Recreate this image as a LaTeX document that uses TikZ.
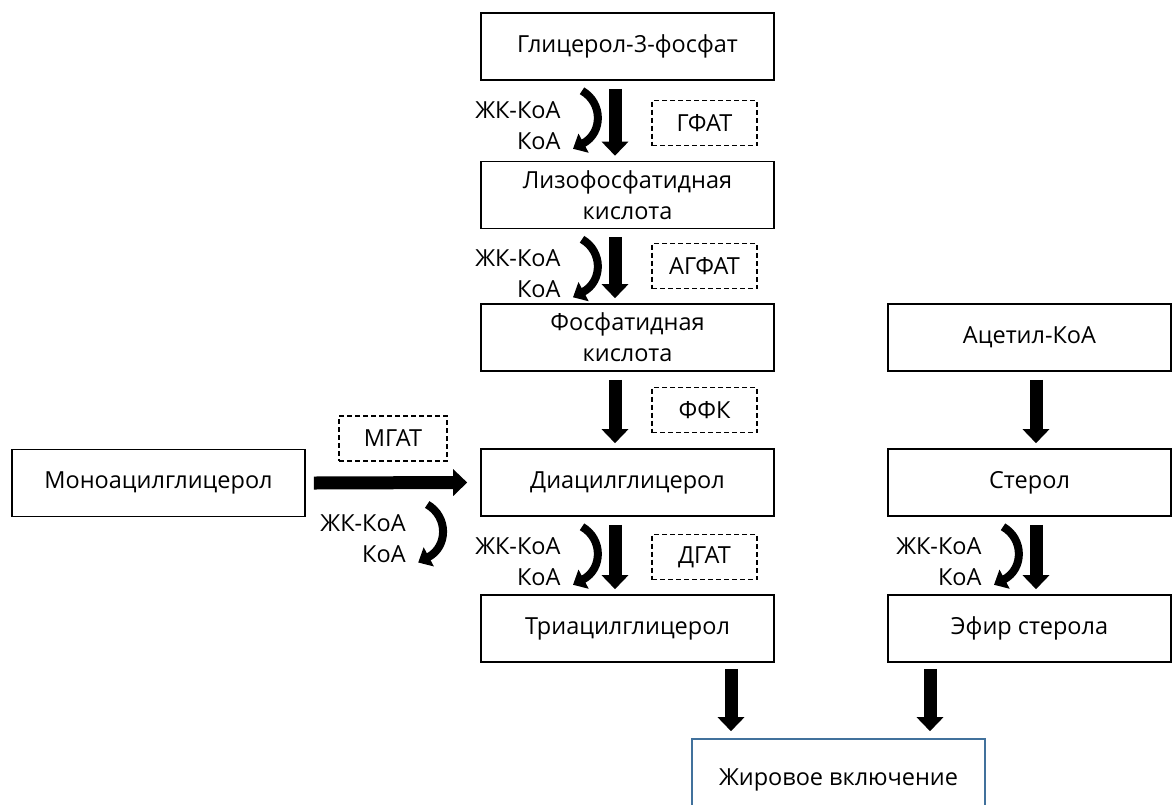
\documentclass[tikz,border=0pt]{standalone}
\usepackage{fontspec}
\setmainfont{Open Sans}
\usepackage{xcolor}
\usepackage{tikz}
\usetikzlibrary{arrows.meta}
\definecolor{lipidblue}{HTML}{41719C}

\begin{document}
\begin{tikzpicture}[x=1pt, y=-1pt, font=\fontsize{23.5}{31}\selectfont]
		% ------- style -------
		\tikzset{%
			box/.style={%
				draw, line width=1.6pt,
				minimum width=293pt, minimum height=67pt,
				inner sep=0pt, align=center,
			},
			enzyme/.style={%
				draw, line width=1.4pt, dash pattern=on 5pt off 3pt,
				minimum width=105pt, minimum height=45pt, inner sep=0pt,
			},
			flow/.style={line width=13pt, -{Triangle[width=26pt,length=14pt]}},
			acyl/.style={line width=8pt, -{Triangle[width=21pt,length=12pt]}},
		}
		\useasboundingbox (0,0) rectangle (1173,804);
		
		% ------- glycerol-3-phosphate path -------
		\node[box] (gly) at (627.5,46.5) {Глицерол-3-фосфат};
		\node[box] (lpa) at (627.5,195)  {Лизофосфатидная\\кислота};
		\node[box] (pa)  at (627.5,337.5) {Фосфатидная\\кислота};
		\node[box] (dag) at (627.5,482.5) {Диацилглицерол};
		\node[box] (tag) at (627.5,628.5) {Триацилглицерол};
		
		\node[box] (mag) at (158.5,483) {Моноацилглицерол};
		
		% ------- sterol path -------
		\node[box, minimum width=283pt] (acoa)   at (1029.5,337.5) {Ацетил-КоА};
		\node[box, minimum width=283pt] (sterol) at (1029.5,482.5) {Стерол};
		\node[box, minimum width=283pt] (ester)  at (1029.5,628.5) {Эфир стерола};
		
		\node[box, draw=lipidblue, minimum height=82pt] (lipid) at (838.5,780) {Жировое включение};
		
		% ------- enzymes -------
		\node[enzyme] (gpat)  at (704.5,123)   {ГФАТ};
		\node[enzyme] (agpat) at (704.5,266)   {АГФАТ};
		\node[enzyme] (pap)   at (704.5,410)   {ФФК};
		\node[enzyme] (dgat)  at (704.5,557)   {ДГАТ};
		\node[enzyme, minimum width=108pt] (mgat) at (393,438.5) {МГАТ};
		
		% ------- arrows -------
		\foreach \a/\b in {gly/lpa, lpa/pa, pa/dag, dag/tag} {
			\coordinate (\a-out) at ([shift={(-12.5,8)}]\a.south);
			\draw[flow] (\a-out) -- ([shift={(-12.5,-5)}]\b.north);
		}
		\foreach \a/\b in {acoa/sterol, sterol/ester} {
			\coordinate (\a-out) at ([shift={(6.5,8)}]\a.south);
			\draw[flow] (\a-out) -- ([shift={(6.5,-5)}]\b.north);
		}
		\draw[flow] ([xshift=8]mag.east) -- ([xshift=-13]dag.west);
		\coordinate (mag-out) at ([shift={(-20,20)}]dag.west);
		
		\draw[flow] ([shift={(103.5,6)}]tag.south) -- ([shift={(-107.5,-7)}]lipid.north);
		\draw[flow] ([shift={(-99.5,6)}]ester.south) -- ([shift={(91.5,-7)}]lipid.north);
		
		% ------- acyl-CoA -------
		\newcommand\acyl[1]{% #1: top of the step arrow
			\draw[acyl] ([shift={(-33,2)}]#1-out)
				.. controls ([shift={(-12,14)}]#1-out) and ([shift={(-12,44)}]#1-out)
				.. ([shift={(-42,60)}]#1-out);
			\node[anchor=east] (#1-ffa) at ([shift={(-51,21)}]#1-out) {ЖК-КоА};
			\node[anchor=east] (#1-coa) at ([shift={(-51,52)}]#1-out) {КоА};
		}
		\acyl{gly}
		\acyl{lpa}
		\acyl{dag}
		\acyl{sterol}
		\acyl{mag}
	\end{tikzpicture}
\end{document}
